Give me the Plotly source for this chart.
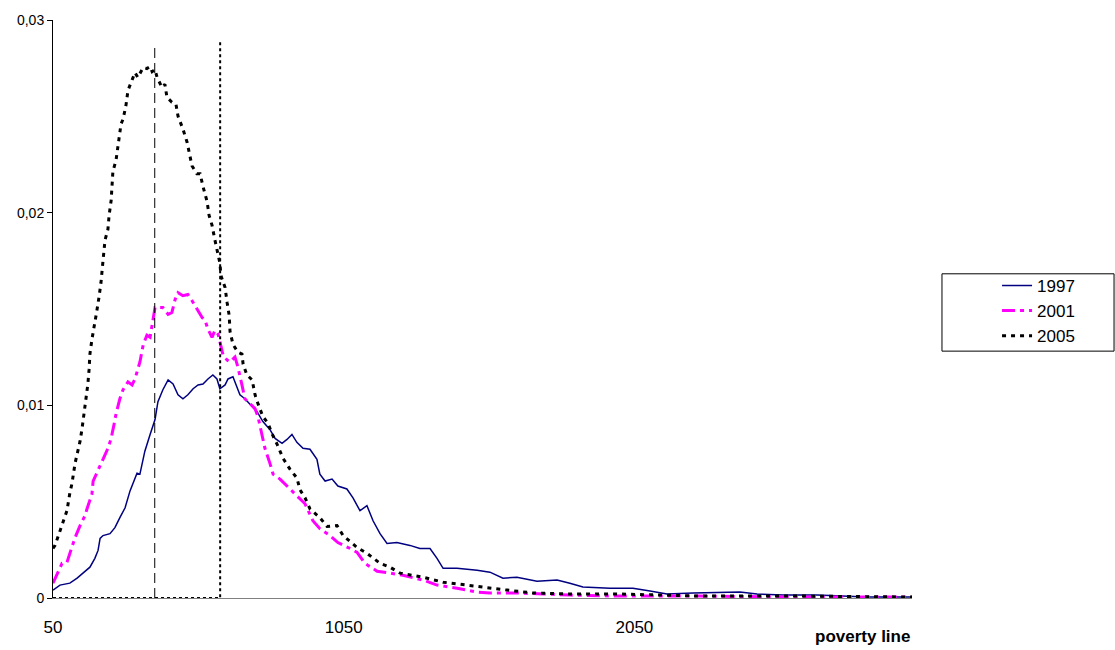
import plotly.graph_objects as go

# ---- data ----
x_1997 = [50, 74, 108, 133, 153, 177, 194, 205, 212, 222, 246, 263, 280, 298, 315, 339, 349, 366, 384, 401,
          411, 428, 446, 463, 480, 497, 514, 532, 549, 566, 583, 600, 614, 624, 642, 652, 669, 680, 693, 710,
          728, 752, 772, 796, 814, 838, 855, 872, 889, 910, 934, 958, 968, 986, 1010, 1030, 1061, 1082, 1106, 1130,
          1151, 1175, 1199, 1233, 1278, 1312, 1347, 1371, 1392, 1440, 1509, 1553, 1598, 1646, 1715, 1784, 1828, 1873, 1966, 2045,
          2104, 2162, 2252, 2413, 2472, 2561, 2678, 2850, 2998]
y_1997 = [0.00041, 0.00067, 0.00077, 0.00103, 0.00129, 0.00160, 0.00206, 0.00247, 0.00309, 0.00324,
          0.00334, 0.00365, 0.00417, 0.00468, 0.00556, 0.00648, 0.00643, 0.00762, 0.00849, 0.00926,
          0.01019, 0.01081, 0.01132, 0.01111, 0.01055, 0.01034, 0.01055, 0.01086, 0.01106, 0.01111,
          0.01137, 0.01158, 0.01137, 0.01086, 0.01106, 0.01137, 0.01148, 0.01106, 0.01055, 0.01034,
          0.01003, 0.00967, 0.00916, 0.00875, 0.00828, 0.00803, 0.00823, 0.00849, 0.00808, 0.00777,
          0.00772, 0.00720, 0.00643, 0.00607, 0.00617, 0.00581, 0.00566, 0.00520, 0.00453, 0.00479,
          0.00401, 0.00334, 0.00283, 0.00288, 0.00273, 0.00257, 0.00257, 0.00206, 0.00154, 0.00154,
          0.00144, 0.00134, 0.00103, 0.00108, 0.00087, 0.00093, 0.00077, 0.00057, 0.00051, 0.00051,
          0.00036, 0.00021, 0.00026, 0.00031, 0.00021, 0.00015, 0.00015, 0.00005, 0.00005]

x_2001 = [50, 67, 81, 98, 115, 126, 143, 160, 167, 184, 188, 205, 219, 239, 250, 260, 267, 280, 291, 308,
          322, 332, 349, 360, 373, 384, 391, 401, 411, 428, 446, 459, 470, 480, 497, 514, 528, 538, 563, 573,
          583, 597, 607, 618, 628, 635, 649, 659, 676, 686, 700, 710, 728, 745, 755, 769, 779, 796, 807, 831,
          855, 889, 917, 944, 968, 1003, 1030, 1072, 1096, 1123, 1165, 1209, 1254, 1323, 1371, 1440, 1509, 1553, 1646, 1736,
          1828, 1990, 2276, 2620, 3005]
y_2001 = [0.00077, 0.00129, 0.00180, 0.00185, 0.00262, 0.00314, 0.00376, 0.00427, 0.00463, 0.00540,
          0.00607, 0.00669, 0.00710, 0.00777, 0.00828, 0.00901, 0.00957, 0.01034, 0.01081, 0.01122,
          0.01106, 0.01137, 0.01225, 0.01312, 0.01364, 0.01353, 0.01420, 0.01508, 0.01508, 0.01508,
          0.01472, 0.01482, 0.01549, 0.01585, 0.01569, 0.01575, 0.01544, 0.01518, 0.01456, 0.01441,
          0.01395, 0.01353, 0.01389, 0.01369, 0.01312, 0.01261, 0.01235, 0.01225, 0.01250, 0.01199,
          0.01106, 0.01034, 0.01009, 0.00983, 0.00942, 0.00849, 0.00777, 0.00700, 0.00643, 0.00617,
          0.00581, 0.00530, 0.00489, 0.00401, 0.00360, 0.00324, 0.00288, 0.00257, 0.00237, 0.00180,
          0.00139, 0.00129, 0.00118, 0.00093, 0.00067, 0.00051, 0.00031, 0.00026, 0.00026, 0.00021,
          0.00015, 0.00010, 0.00010, 0.00005, 0.00005]

x_2005 = [50, 57, 71, 84, 98, 108, 115, 126, 133, 143, 150, 157, 164, 170, 174, 177, 184, 191, 201, 208,
          215, 222, 229, 239, 243, 250, 253, 256, 267, 274, 277, 284, 291, 301, 308, 315, 325, 332, 342, 360,
          373, 384, 391, 401, 408, 425, 435, 442, 459, 473, 480, 497, 511, 521, 528, 545, 556, 566, 580, 587,
          597, 607, 624, 628, 642, 649, 656, 659, 669, 686, 700, 704, 717, 735, 745, 755, 772, 790, 803, 821,
          841, 865, 889, 900, 917, 934, 968, 993, 1027, 1048, 1096, 1130, 1175, 1209, 1244, 1323, 1392, 1474, 1553, 1612,
          1701, 1818, 1990, 2276, 2620, 3005]
y_2005 = [0.00257, 0.00273, 0.00334, 0.00386, 0.00453, 0.00545, 0.00592, 0.00700, 0.00746, 0.00813,
          0.00880, 0.00957, 0.01034, 0.01111, 0.01184, 0.01266, 0.01343, 0.01415, 0.01492, 0.01559,
          0.01636, 0.01750, 0.01858, 0.01914, 0.01986, 0.02063, 0.02141, 0.02213, 0.02274, 0.02357,
          0.02393, 0.02460, 0.02485, 0.02557, 0.02635, 0.02660, 0.02702, 0.02727, 0.02702, 0.02753,
          0.02748, 0.02758, 0.02732, 0.02743, 0.02702, 0.02650, 0.02666, 0.02599, 0.02573, 0.02563,
          0.02501, 0.02434, 0.02367, 0.02295, 0.02244, 0.02202, 0.02202, 0.02136, 0.02058, 0.01986,
          0.01935, 0.01858, 0.01739, 0.01672, 0.01611, 0.01533, 0.01467, 0.01384, 0.01317, 0.01276,
          0.01266, 0.01214, 0.01158, 0.01132, 0.01055, 0.01009, 0.00942, 0.00906, 0.00854, 0.00798,
          0.00726, 0.00669, 0.00623, 0.00561, 0.00520, 0.00463, 0.00417, 0.00371, 0.00376, 0.00324,
          0.00262, 0.00232, 0.00180, 0.00160, 0.00129, 0.00108, 0.00082, 0.00067, 0.00051, 0.00041,
          0.00026, 0.00021, 0.00021, 0.00010, 0.00010, 0.00005]

series_names = ["1997", "2001", "2005"]
x_tick_values = [50, 1050, 2050]
x_tick_labels = ["50", "1050", "2050"]
y_tick_values = [0, 0.01, 0.02, 0.03]
y_tick_labels = ["0", "0,01", "0,02", "0,03"]
poverty_line_low = 400      # dashed vertical reference line
poverty_line_high = 625     # dotted vertical reference line
ref_line_top_low = 0.0288
ref_line_top_high = 0.0290
x_min, x_max = 50, 3005
y_min, y_max = 0, 0.03

FONT = "Liberation Sans, Arial, sans-serif"

fig = go.Figure()
fig.add_trace(go.Scatter(x=x_1997, y=y_1997, mode="lines", name=series_names[0], legendgroup="a",
                         line=dict(color="#000080", width=1.5)))
fig.add_trace(go.Scatter(x=x_2001, y=y_2001, mode="lines", name=series_names[1], legendgroup="b",
                         line=dict(color="#FF00FF", width=3, dash="13px,5px,4px,5px")))
fig.add_trace(go.Scatter(x=x_2005, y=y_2005, mode="lines", name=series_names[2], legendgroup="c",
                         line=dict(color="#000000", width=3, dash="4px,5px")))

# reference lines
fig.add_shape(type="line", xref="x", yref="y", x0=poverty_line_low, x1=poverty_line_low,
              y0=0, y1=ref_line_top_low, line=dict(color="#000000", width=1, dash="10px,5px"))
fig.add_shape(type="path", xref="x", yref="y",
              path=f"M {x_min},0 L {poverty_line_high},0 L {poverty_line_high},{ref_line_top_high}",
              line=dict(color="#000000", width=2, dash="3px,3px"))

# legend frame
fig.add_shape(type="rect", xref="paper", yref="paper", x0=1.0349, x1=1.2352, y0=0.4271, y1=0.5609,
              line=dict(color="#000000", width=1), fillcolor="rgba(0,0,0,0)")

fig.add_annotation(text="<b>poverty line</b>", xref="paper", yref="paper", x=1, y=-0.067,
                   xanchor="right", yanchor="middle", showarrow=False,
                   font=dict(family=FONT, size=17, color="#000000"))

fig.update_layout(
    width=1115, height=650,
    margin=dict(l=53, r=203, t=15, b=52),
    paper_bgcolor="white", plot_bgcolor="white",
    font=dict(family=FONT, color="#000000"),
    showlegend=True,
    legend=dict(x=1.099, y=0.571, xanchor="left", yanchor="top",
                font=dict(family=FONT, size=17, color="#000000"),
                bgcolor="rgba(0,0,0,0)", borderwidth=0, tracegroupgap=0),
    xaxis=dict(range=[x_min, x_max], tickvals=x_tick_values, ticktext=x_tick_labels,
               showgrid=False, zeroline=False, showline=True, linecolor="#808080", linewidth=1,
               ticks="", ticklabelstandoff=14, tickfont=dict(family=FONT, size=17, color="#000000")),
    yaxis=dict(range=[y_min, y_max], tickvals=y_tick_values, ticktext=y_tick_labels,
               showgrid=False, zeroline=False, showline=True, linecolor="#000000", linewidth=1,
               ticks="outside", ticklen=5, tickcolor="#000000",
               tickfont=dict(family=FONT, size=14, color="#000000")),
)

fig.write_html("out.html")
